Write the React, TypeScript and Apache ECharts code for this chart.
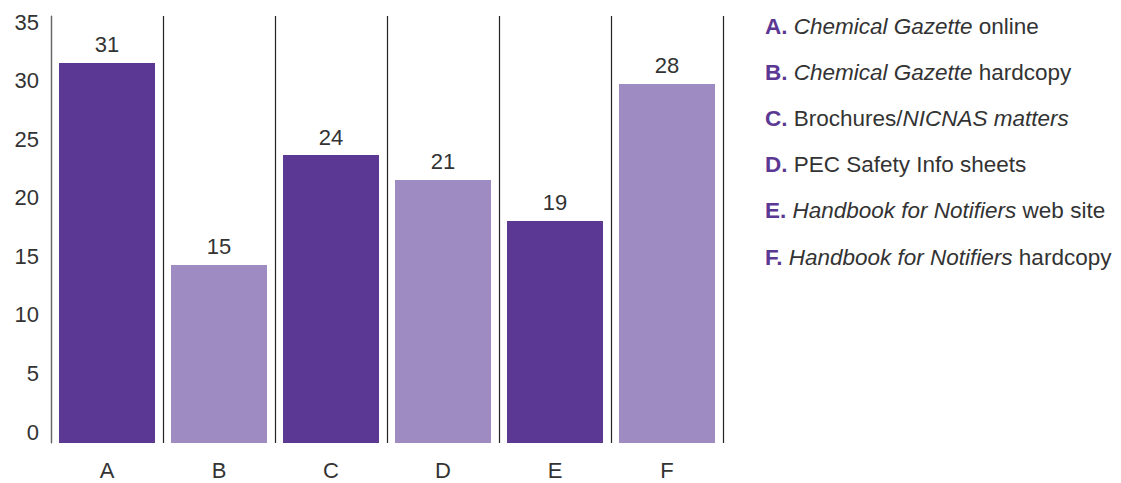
import React, { useEffect, useRef } from "react";
import * as echarts from "echarts";

const categories = ["A", "B", "C", "D", "E", "F"];
const barHeights = [31.15, 14.6, 23.6, 21.56, 18.2, 29.43];
const barLabels = ["31", "15", "24", "21", "19", "28"];
const barColors = ["#5B3893", "#9E8BC2", "#5B3893", "#9E8BC2", "#5B3893", "#9E8BC2"];
const yTickMin = 0;
const yTickMax = 35;
const yTickStep = 5;

const legendLetters = ["A.", "B.", "C.", "D.", "E.", "F."];
const legendParts: [string, string][][] = [
  [["i", "Chemical Gazette"], ["n", " online"]],
  [["i", "Chemical Gazette"], ["n", " hardcopy"]],
  [["n", "Brochures/"], ["i", "NICNAS matters"]],
  [["n", "PEC Safety Info sheets"]],
  [["i", "Handbook for Notifiers"], ["n", " web site"]],
  [["i", "Handbook for Notifiers"], ["n", " hardcopy"]],
];

const FONT = "'Liberation Sans', Arial, sans-serif";
const FS = 22;
const LFS = 22.5;

export default function App() {
  const ref = useRef<HTMLDivElement>(null);
  useEffect(() => {
    if (!ref.current) return;
    const chart = echarts.init(ref.current, null, { renderer: "svg" });
    const legendGraphics = legendLetters.map((letter, i) => ({
      type: "text",
      x: 765,
      y: 26 + i * 46.2,
      style: {
        text:
          `{b|${letter}} ` +
          legendParts[i].map(([s, t]) => `{${s}|${t}}`).join(""),
        verticalAlign: "middle",
        align: "left",
        fontFamily: FONT,
        fontSize: LFS,
        rich: {
          b: { fontFamily: FONT, fontSize: LFS, fontWeight: "bold", fill: "#5B3893" },
          i: { fontFamily: FONT, fontSize: LFS, fontStyle: "italic", fill: "#333" },
          n: { fontFamily: FONT, fontSize: LFS, fill: "#333" },
        },
      },
    }));
    chart.setOption({
      animation: false,
      backgroundColor: "#fff",
      grid: [
        { left: 51, right: 398, top: 16, bottom: 40 },
        { left: 51, right: 398, top: 22, bottom: 51 },
      ],
      xAxis: [
        {
          type: "category",
          gridIndex: 0,
          data: categories,
          axisLine: { show: false },
          axisTick: { show: false },
          axisLabel: { fontFamily: FONT, fontSize: FS, color: "#333", margin: 16 },
          splitLine: { show: true, lineStyle: { color: "#222", width: 1.2 } },
        },
        {
          type: "category",
          gridIndex: 1,
          data: categories,
          show: false,
        },
      ],
      yAxis: [
        {
          type: "value",
          gridIndex: 0,
          min: yTickMin,
          max: yTickMax,
          interval: yTickStep,
          axisLine: { show: true, lineStyle: { color: "#666", width: 1.2 } },
          axisTick: { show: false },
          axisLabel: { show: false },
          splitLine: { show: false },
        },
        {
          type: "value",
          gridIndex: 1,
          min: yTickMin,
          max: yTickMax,
          interval: yTickStep,
          axisLine: { show: false },
          axisTick: { show: false },
          axisLabel: { fontFamily: FONT, fontSize: FS, color: "#333", margin: 12 },
          splitLine: { show: false },
        },
      ],
      series: [
        {
          type: "bar",
          xAxisIndex: 0,
          yAxisIndex: 0,
          barWidth: 96,
          data: barHeights.map((v, i) => ({
            value: v,
            itemStyle: { color: barColors[i] },
          })),
          label: {
            show: true,
            position: "top",
            distance: 7,
            fontFamily: FONT,
            fontSize: FS,
            color: "#333",
            formatter: (p: any) => barLabels[p.dataIndex],
          },
        },
      ],
      graphic: legendGraphics,
    });
    return () => chart.dispose();
  }, []);
  return <div ref={ref} style={{ width: 1121, height: 483, position: "absolute", left: 0, top: 0 }} />;
}
